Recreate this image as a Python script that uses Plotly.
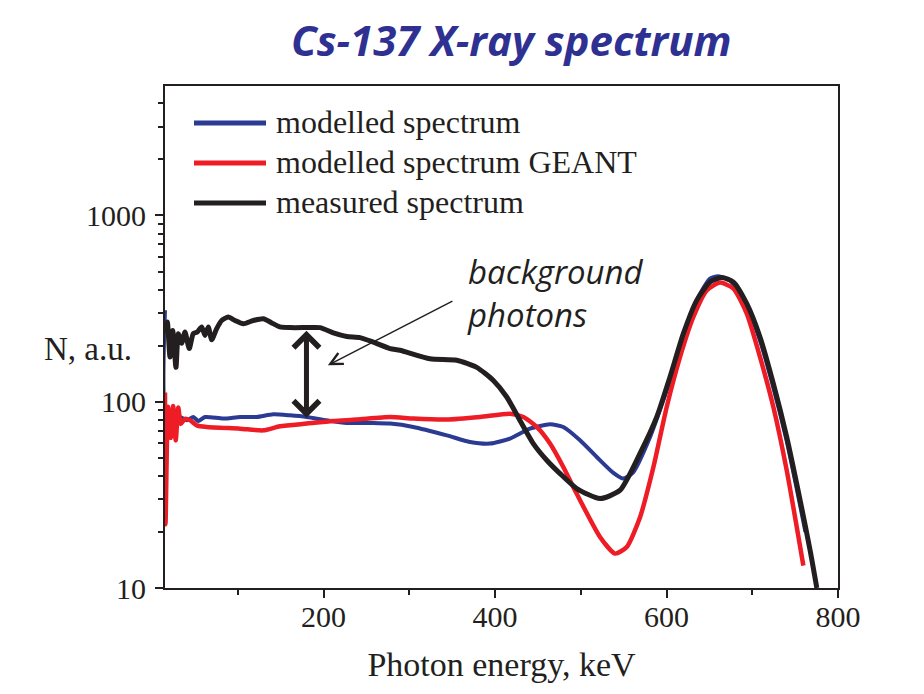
import math
import plotly.graph_objects as go

# ---------------- data ----------------
black_E = [15, 17.7, 20.8, 24, 27.8, 30.5, 34.5, 38.3, 43.3, 48, 52.7, 57.8, 61.7, 65.5, 69.5, 75.3, 81.1,
           88.8, 96.7, 106.3, 118, 129.7, 139.5, 149.1, 160.8, 180.3, 195.8, 211.3, 227, 242.5, 258, 277.5,
           289, 324, 355.3, 378.6, 398, 413.6, 429, 444.6, 460.3, 475.8, 495.3, 522.4, 545.8, 569.1, 588.6,
           604, 619.6, 635.2, 650.7, 664.4, 678, 693.6, 709, 724.6, 740.2, 755.8, 767.5, 775.3]
black_N = [232, 268, 174, 241, 153, 232, 206, 237, 193, 232, 237, 252, 227, 252, 215, 247, 273,
           285, 273, 262, 273, 279, 265, 252, 250, 250, 250, 234, 224, 221, 209, 193,
           189, 170, 167, 153, 130, 106, 79.4, 59.6, 48.5, 41.1, 34.2, 30.2, 33.5, 52.8, 82.8,
           135.7, 232, 350, 439, 464, 439, 336, 222.5, 125, 64.6, 29.6, 15.9, 10]

blue_E = [15, 16.5, 28.6, 32.5, 40.3, 48, 53.8, 61.7, 83, 102.5, 122, 141.3, 160.8, 180.3, 203.6, 227,
          258, 277.5, 304.6, 343.6, 370.8, 394.1, 417.4, 440.8, 464.1, 479.6, 499.1, 518.6, 538, 549.6,
          561.3, 580.8, 600.2, 619.6, 635.2, 650.7, 660.4, 674, 692, 708, 724, 740, 755, 762]
blue_N = [310, 85, 81.2, 82.8, 79.5, 82.8, 78.8, 82.8, 81.2, 82.8, 82.8, 85.6, 84.5, 82.8, 79.5, 76.9,
          76.9, 76.3, 73.2, 66, 60.8, 59.6, 63.4, 71.7, 75.6, 73.2, 62.1, 50.5, 41.5, 38.7,
          41.9, 64.6, 115, 213.6, 350, 458, 471, 448, 340, 220, 122, 62, 29, 20]

red_E = [15, 15.6, 18.5, 21.7, 24.5, 27.5, 30.5, 33.5, 38.3, 44.2, 52, 63.6, 102.5, 129.7, 149.1, 180.3,
         211.3, 238.6, 277.5, 304.6, 343.6, 382.5, 417.4, 433, 448.6, 464.1, 479.6, 491.3, 522.4, 540,
         553.6, 569.1, 584.7, 600.2, 615.8, 631.3, 646.9, 662.4, 678, 693.6, 709, 724.6, 740.2, 759.6]
red_N = [112, 22, 94, 64, 95, 62, 93, 76, 81, 79.5, 74.7, 73.2, 71.7, 70.2, 73.8, 76.3,
         78.8, 80.2, 82.8, 81.2, 80.2, 82.8, 86.3, 82.8, 73.2, 59.6, 44.6, 34.8, 18.8, 15.3,
         16.6, 24, 44.6, 93.7, 174, 285, 396, 436, 405, 297, 174, 93.7, 42.8, 13.2]

series_names = ["modelled spectrum", "modelled spectrum GEANT", "measured spectrum"]
x_ticks = [200, 400, 600, 800]
y_ticks = [10, 100, 1000]
y_tick_text = ["10", "100", "1000"]

# double arrow (background gap) and pointer arrow, in data units
gap_E = 180
gap_top, gap_bottom = 245, 82
ptr_tip = (205, 157)
ptr_tail = (352, 350)

# ---------------- style ----------------
BLUE = "#2b3a92"
RED = "#ee1c25"
BLACK = "#231f20"
TITLE_C = "#2e3192"
SERIF = "Liberation Serif, Times New Roman, serif"
SANS = "Open Sans, sans-serif"

W, H = 924, 694
L, R, T, B = 165, 86, 86, 106
PW, PH = W - L - R, H - T - B


def px(x):
    return (x - L) / PW


def py(y):
    return (H - B - y) / PH


fig = go.Figure()
for E, N, col, w, name in [(blue_E, blue_N, BLUE, 4, series_names[0]),
                           (red_E, red_N, RED, 4.5, series_names[1]),
                           (black_E, black_N, BLACK, 5, series_names[2])]:
    fig.add_trace(go.Scatter(x=E, y=N, mode="lines", name=name,
                             line=dict(color=col, width=w, shape="spline", smoothing=0.6),
                             showlegend=False))

fig.update_layout(
    width=W, height=H,
    margin=dict(l=L, r=R, t=T, b=B, pad=0),
    paper_bgcolor="white", plot_bgcolor="white",
    font=dict(family=SERIF, size=30, color=BLACK),
)
fig.update_xaxes(range=[15, 800], tickvals=x_ticks, ticks="outside", ticklen=8, tickwidth=1.5,
                 tickcolor=BLACK, showline=True, linecolor=BLACK, linewidth=2, mirror=True,
                 showgrid=False, zeroline=False, tickfont=dict(family=SERIF, size=30, color=BLACK),
                 ticklabelstandoff=-7,
                 minor=dict(dtick=100, tick0=0, ticks="outside", ticklen=5, tickcolor=BLACK, showgrid=False),
                 title=dict(text="Photon energy, keV", font=dict(family=SERIF, size=34, color=BLACK),
                            standoff=20))
minor_y = [m * 10 ** d for d in range(1, 4) for m in range(2, 10) if m * 10 ** d < 5000]
fig.update_yaxes(type="log", range=[1, 3.695], tickvals=y_ticks, ticktext=y_tick_text,
                 ticks="outside", ticklen=8, tickwidth=1.5, tickcolor=BLACK,
                 showline=True, linecolor=BLACK, linewidth=2, mirror=True, showgrid=False,
                 zeroline=False, tickfont=dict(family=SERIF, size=30, color=BLACK),
                 ticklabelstandoff=3,
                 minor=dict(tickvals=minor_y, ticks="outside", ticklen=5, tickcolor=BLACK, showgrid=False))

# title
fig.add_annotation(xref="paper", yref="paper", x=px(512), y=py(39), xanchor="center", yanchor="middle",
                   text="<b><i>Cs-137 X-ray spectrum</i></b>", showarrow=False,
                   font=dict(family=SANS, size=42, color=TITLE_C))
# y axis title (horizontal)
fig.add_annotation(xref="paper", yref="paper", x=px(88), y=py(349), xanchor="center", yanchor="middle",
                   text="N, a.u.", showarrow=False, font=dict(family=SERIF, size=33, color=BLACK))

# legend (manual, to match long line samples)
for i, (name, col) in enumerate(zip(series_names, [BLUE, RED, BLACK])):
    yy = 123 + i * 40
    fig.add_shape(type="line", xref="paper", yref="paper", x0=px(194), x1=px(266), y0=py(yy), y1=py(yy),
                  line=dict(color=col, width=5))
    fig.add_annotation(xref="paper", yref="paper", x=px(274), y=py(yy - 1), xanchor="left", yanchor="middle",
                       text=name, showarrow=False, font=dict(family=SERIF, size=32, color=BLACK))

# background photons text
fig.add_annotation(xref="paper", yref="paper", x=px(465), y=py(293), xanchor="left", yanchor="middle",
                   text="<i>background<br>photons</i>", showarrow=False, align="left",
                   font=dict(family=SANS, size=33, color=BLACK))

# pointer arrow
fig.add_annotation(x=ptr_tip[0], y=math.log10(ptr_tip[1]), ax=ptr_tail[0], ay=math.log10(ptr_tail[1]),
                   xref="x", yref="y", axref="x", ayref="y", text="", showarrow=True,
                   arrowhead=5, arrowsize=1.6, arrowwidth=1.5, arrowcolor=BLACK, standoff=0)
# double-headed arrow
fig.add_annotation(x=gap_E, y=math.log10(gap_bottom), ax=gap_E, ay=math.log10(gap_top),
                   xref="x", yref="y", axref="x", ayref="y", text="", showarrow=True,
                   arrowhead=4, startarrowhead=4, arrowside="end+start", arrowsize=1, startarrowsize=1,
                   arrowwidth=5, arrowcolor=BLACK, standoff=0, startstandoff=0)

fig.write_html("out.html")
